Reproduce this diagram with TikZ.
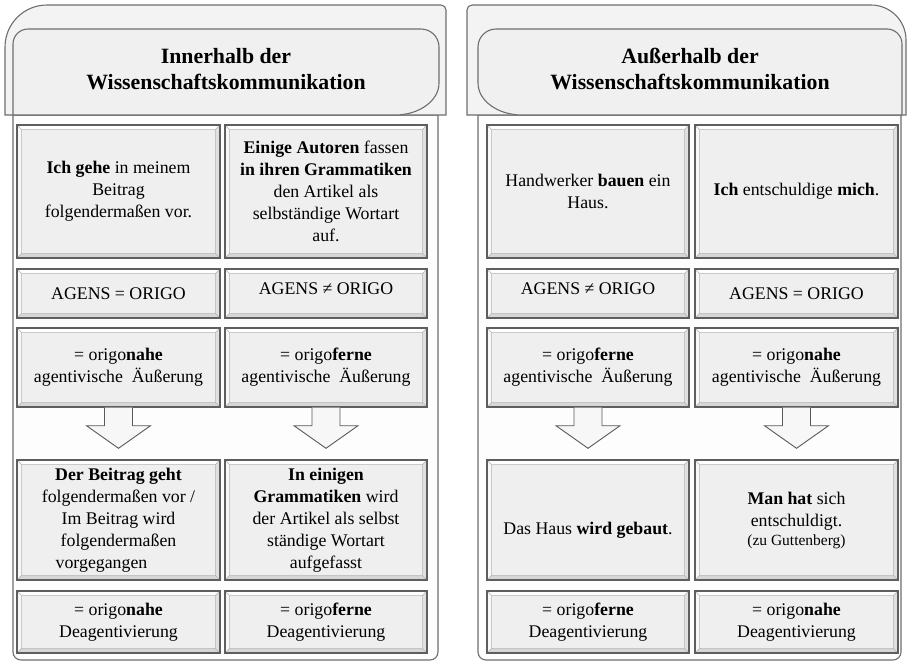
\documentclass[tikz,border=0pt]{standalone}
\usepackage{fontspec}
\setmainfont{Liberation Serif}
\usetikzlibrary{calc}
\definecolor{boxfill}{HTML}{EFEFEF}
\definecolor{boxline}{HTML}{5E5E5E}
\definecolor{panelline}{HTML}{6E6E6E}
\definecolor{tabfill}{HTML}{F3F3F3}
\definecolor{headfill}{HTML}{F0F0F0}
\definecolor{bodyfill}{HTML}{FDFDFD}
\begin{document}
\begin{tikzpicture}[x=1pt,y=-1pt,
  cell/.style={draw=boxline, line width=1.4pt, fill=boxfill, inner sep=0pt,
    align=center, font=\fontsize{17.8}{22}\selectfont, text=black,
    path picture={
      \path (path picture bounding box.north west) coordinate (pA)
            (path picture bounding box.north east) coordinate (pB)
            (path picture bounding box.south east) coordinate (pC)
            (path picture bounding box.south west) coordinate (pD);
      \path ($(pA)+(4.5,4.5)$) coordinate (qA) ($(pB)+(-4.5,4.5)$) coordinate (qB)
            ($(pC)+(-4.5,-4.5)$) coordinate (qC) ($(pD)+(4.5,-4.5)$) coordinate (qD);
      \fill[white] (pA)--(pB)--(qB)--(qA)--cycle;
      \fill[white!55!boxfill] (pA)--(qA)--(qD)--(pD)--cycle;
      \fill[gray!32] (pD)--(qD)--(qC)--(pC)--cycle;
      \fill[gray!24] (pB)--(qB)--(qC)--(pC)--cycle;
      \draw[gray!60,line width=.5pt] (qA)--(qB)--(qC)--(qD)--cycle
         (pA)--(qA) (pB)--(qB) (pC)--(qC) (pD)--(qD);
    }},
  wA/.style={minimum width=203pt}, wB/.style={minimum width=202pt},
  r1/.style={minimum height=133pt}, r2/.style={minimum height=49pt},
  r3/.style={minimum height=79pt}, r4/.style={minimum height=120pt},
  r5/.style={minimum height=62pt},
  panel/.style={draw=panelline, line width=1.1pt},
  headtext/.style={font=\fontsize{21.8}{26.7}\selectfont\bfseries, align=center, text=black},
  blockarrow/.style={draw=gray!70!black, line width=0.9pt, fill=gray!6, line join=miter}
]
\useasboundingbox (0,0) rectangle (907,662);

% ---------- left panel ----------
\draw[panel, fill=bodyfill] (13,115) -- (13,652) arc[start angle=180,end angle=90,radius=8]
  -- (430,660) arc[start angle=90,end angle=0,radius=8] -- (438,115) -- cycle;
\draw[panel, fill=tabfill] (5,115) -- (5,47) arc[start angle=180,end angle=270,radius=42]
  -- (441,5) arc[start angle=270,end angle=360,radius=5] -- (446,115) -- cycle;
\draw[panel, fill=headfill] (13,115) -- (13,44) arc[start angle=180,end angle=270,radius=15]
  -- (421,29) arc[start angle=270,end angle=360,radius=18] -- (439,83)
  arc[start angle=0,end angle=90,x radius=44,y radius=32] -- cycle;
\node[headtext] (LH) at (226,69) {Innerhalb der\\Wissenschaftskommunikation};

% ---------- right panel ----------
\draw[panel, fill=bodyfill] (478,115) -- (478,652) arc[start angle=180,end angle=90,radius=8]
  -- (893,660) arc[start angle=90,end angle=0,radius=8] -- (901,115) -- cycle;
\draw[panel, fill=tabfill] (467,115) -- (467,10) arc[start angle=180,end angle=270,radius=5]
  -- (871,5) arc[start angle=270,end angle=360,radius=35] -- (906,115) -- cycle;
\draw[panel, fill=headfill] (902,115) -- (522,115)
  arc[start angle=90,end angle=180,x radius=44,y radius=32] -- (478,47)
  arc[start angle=180,end angle=270,radius=18] -- (887,29)
  arc[start angle=270,end angle=360,radius=15] -- cycle;
\node[headtext] (RH) at (690,69) {Außerhalb der\\Wissenschaftskommunikation};

% ---------- left panel cells ----------
\node[cell,wA,r1] (L11) at (118.5,191.5) {\textbf{Ich gehe} in meinem\\Beitrag\\folgendermaßen vor.};
\node[cell,wB,r1] (L21) at (326,191.5) {\textbf{Einige Autoren} fassen\\\textbf{in ihren Grammatiken}\\den Artikel als\\selbständige Wortart\\auf.};
\node[cell,wA,r2] (L12) at (118.5,293.5) {AGENS = ORIGO};
\node[cell,wB,r2] (L22) at (326,293.5) {\raisebox{5pt}[\height][\depth]{AGENS ≠ ORIGO}};
\node[cell,wA,r3] (L13) at (118.5,367.5) {= origo\textbf{nahe}\\agentivische\ \ Äußerung};
\node[cell,wB,r3] (L23) at (326,367.5) {= origo\textbf{ferne}\\agentivische\ \ Äußerung};
\node[cell,wA,r4] (L14) at (118.5,520) {\textbf{Der Beitrag geht}\\folgendermaßen vor /\\Im Beitrag wird\\folgendermaßen\\vorgegangen\hspace*{34pt}};
\node[cell,wB,r4] (L24) at (326,520) {\textbf{In einigen}\\\textbf{Grammatiken} wird\\der Artikel als selbst\\ständige Wortart\\aufgefasst};
\node[cell,wA,r5] (L15) at (118.5,622) {= origo\textbf{nahe}\\Deagentivierung};
\node[cell,wB,r5] (L25) at (326,622) {= origo\textbf{ferne}\\Deagentivierung};

% ---------- right panel cells ----------
\node[cell,wB,r1] (R11) at (588,191.5) {Handwerker \textbf{bauen} ein\\Haus.};
\node[cell,wA,r1] (R21) at (796.5,191.5) {\textbf{Ich} entschuldige \textbf{mich}.};
\node[cell,wB,r2] (R12) at (588,293.5) {\raisebox{5pt}[\height][\depth]{AGENS ≠ ORIGO}};
\node[cell,wA,r2] (R22) at (796.5,293.5) {AGENS = ORIGO};
\node[cell,wB,r3] (R13) at (588,367.5) {= origo\textbf{ferne}\\agentivische\ \ Äußerung};
\node[cell,wA,r3] (R23) at (796.5,367.5) {= origo\textbf{nahe}\\agentivische\ \ Äußerung};
\node[cell,wB,r4] (R14) at (588,520) {\raisebox{-10pt}[\height][\depth]{Das Haus \textbf{wird gebaut}.}};
\node[cell,wA,r4] (R24) at (796.5,520) {\textbf{Man hat} sich\\entschuldigt.\\[-3pt]{\fontsize{15.5}{18}\selectfont (zu Guttenberg)}};
\node[cell,wB,r5] (R15) at (588,622) {= origo\textbf{ferne}\\Deagentivierung};
\node[cell,wA,r5] (R25) at (796.5,622) {= origo\textbf{nahe}\\Deagentivierung};

% ---------- block arrows ----------
\foreach \a/\b in {L13/L14, L23/L24, R13/R14, R23/R24}{
  \draw[blockarrow] ($(\a.south)+(-14,0)$) -- ++(0,18) -- ++(-18,0)
    -- ($(\b.north)+(0,-11)$) -- ($(\a.south)+(32,18)$) -- ++(-18,0)
    -- ($(\a.south)+(14,0)$);
}
\end{tikzpicture}
\end{document}
